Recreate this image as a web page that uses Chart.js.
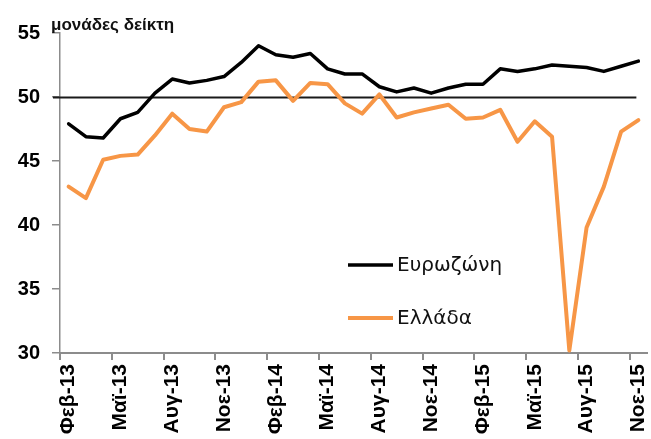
<!DOCTYPE html>
<html>
<head>
<meta charset="utf-8">
<script src="https://cdn.jsdelivr.net/npm/chart.js@4.4.1/dist/chart.umd.min.js"></script>
<style>
  html, body { margin: 0; padding: 0; background: #ffffff; }
  #wrap { width: 651px; height: 439px; position: relative; }
</style>
</head>
<body>
<div id="wrap"><canvas id="c"></canvas></div>
<script>
const months = [
  'Φεβ-13','Μαρ-13','Απρ-13','Μαϊ-13','Ιουν-13','Ιουλ-13','Αυγ-13','Σεπ-13','Οκτ-13','Νοε-13','Δεκ-13',
  'Ιαν-14','Φεβ-14','Μαρ-14','Απρ-14','Μαϊ-14','Ιουν-14','Ιουλ-14','Αυγ-14','Σεπ-14','Οκτ-14','Νοε-14','Δεκ-14',
  'Ιαν-15','Φεβ-15','Μαρ-15','Απρ-15','Μαϊ-15','Ιουν-15','Ιουλ-15','Αυγ-15','Σεπ-15','Οκτ-15','Νοε-15'
];
const eurozone = [
  47.9, 46.9, 46.8, 48.3, 48.8, 50.3, 51.4, 51.1, 51.3, 51.6, 52.7,
  54.0, 53.3, 53.1, 53.4, 52.2, 51.8, 51.8, 50.8, 50.4, 50.7, 50.3, 50.7,
  51.0, 51.0, 52.2, 52.0, 52.2, 52.5, 52.4, 52.3, 52.0, 52.4, 52.8
];
const greece = [
  43.0, 42.1, 45.1, 45.4, 45.5, 47.0, 48.7, 47.5, 47.3, 49.2, 49.6,
  51.2, 51.3, 49.7, 51.1, 51.0, 49.5, 48.7, 50.2, 48.4, 48.8, 49.1, 49.4,
  48.3, 48.4, 49.0, 46.5, 48.1, 46.9, 30.2, 39.8, 43.0, 47.3, 48.2
];
const seriesNames = ['Ευρωζώνη', 'Ελλάδα'];
const yTicks = [30, 35, 40, 45, 50, 55];
const yTitle = 'μονάδες δείκτη';
const referenceLevel = 50;

const AXIS_GRAY = '#8c8c8c';

const refLinePlugin = {
  id: 'refLine',
  beforeDatasetsDraw(chart) {
    const x = chart.scales.x, y = chart.scales.y, ctx = chart.ctx;
    const py = Math.round(y.getPixelForValue(referenceLevel)) + 0.5;
    ctx.save();
    ctx.strokeStyle = '#1a1a1a';
    ctx.lineWidth = 2;
    ctx.beginPath();
    ctx.moveTo(x.left - 7, py);
    ctx.lineTo(x.getPixelForValue(months.length - 1) - 2, py);
    ctx.stroke();
    ctx.restore();
  }
};

const textPlugin = {
  id: 'texts',
  afterDraw(chart) {
    const ctx = chart.ctx;
    ctx.save();
    ctx.fillStyle = '#111';
    ctx.font = 'bold 17px "Liberation Sans", Arial, sans-serif';
    ctx.textBaseline = 'middle';
    ctx.textAlign = 'left';
    ctx.fillText(yTitle, 51, 25);
    const items = chart.data.datasets.slice(0, 2);
    const rows = [265, 318];
    items.forEach((ds, i) => {
      ctx.strokeStyle = ds.borderColor;
      ctx.lineWidth = i === 0 ? 3.5 : 4;
      ctx.beginPath();
      ctx.moveTo(348, rows[i]);
      ctx.lineTo(393, rows[i]);
      ctx.stroke();
      ctx.fillStyle = '#111';
      ctx.font = '20px "DejaVu Sans", sans-serif';
      ctx.textBaseline = 'middle';
      ctx.fillText(ds.label, 397, rows[i] + 1);
    });
    ctx.restore();
  }
};

new Chart(document.getElementById('c'), {
  type: 'line',
  data: {
    labels: months,
    datasets: [
      {
        label: seriesNames[0],
        data: eurozone,
        borderColor: '#000000',
        borderWidth: 3.5,
        pointRadius: 0,
        tension: 0,
        borderCapStyle: 'round',
        borderJoinStyle: 'round'
      },
      {
        label: seriesNames[1],
        data: greece,
        borderColor: '#F79646',
        borderWidth: 4,
        pointRadius: 0,
        tension: 0,
        borderCapStyle: 'round',
        borderJoinStyle: 'round'
      }
    ]
  },
  options: {
    responsive: true,
    maintainAspectRatio: false,
    animation: false,
    devicePixelRatio: 1,
    layout: { padding: { top: 33, right: 4, left: 0, bottom: 0 } },
    plugins: {
      legend: { display: false },
      tooltip: { enabled: false },
      title: { display: false }
    },
    scales: {
      x: {
        type: 'category',
        offset: true,
        afterFit(scale) {
          scale.height = 86;
          scale.paddingLeft = 0;
          scale.paddingRight = 0;
        },
        grid: {
          offset: true,
          drawOnChartArea: false,
          drawTicks: true,
          tickLength: 7,
          lineWidth: 2,
          color: (ctx) => (ctx.index % 3 === 0 ? AXIS_GRAY : 'rgba(0,0,0,0)')
        },
        border: { display: true, color: AXIS_GRAY, width: 2 },
        ticks: {
          autoSkip: false,
          minRotation: 90,
          maxRotation: 90,
          padding: 4,
          color: '#000',
          font: { family: '"Liberation Sans", Arial, sans-serif', size: 21, weight: 'bold' },
          callback: function (value, index) {
            return index % 3 === 0 ? months[index] : '';
          }
        }
      },
      y: {
        min: 30,
        max: 55,
        afterFit(scale) {
          scale.width = 60;
          scale.paddingTop = 0;
          scale.paddingBottom = 0;
        },
        afterBuildTicks(scale) { scale.ticks = yTicks.map(v => ({ value: v })); },
        grid: {
          drawOnChartArea: false,
          drawTicks: true,
          tickLength: 8,
          lineWidth: 1.5,
          color: AXIS_GRAY
        },
        border: { display: true, color: AXIS_GRAY, width: 1.5 },
        ticks: {
          padding: 12,
          color: '#000',
          font: { family: '"Liberation Sans", Arial, sans-serif', size: 20, weight: 'bold' }
        }
      }
    }
  },
  plugins: [refLinePlugin, textPlugin]
});
</script>
</body>
</html>
